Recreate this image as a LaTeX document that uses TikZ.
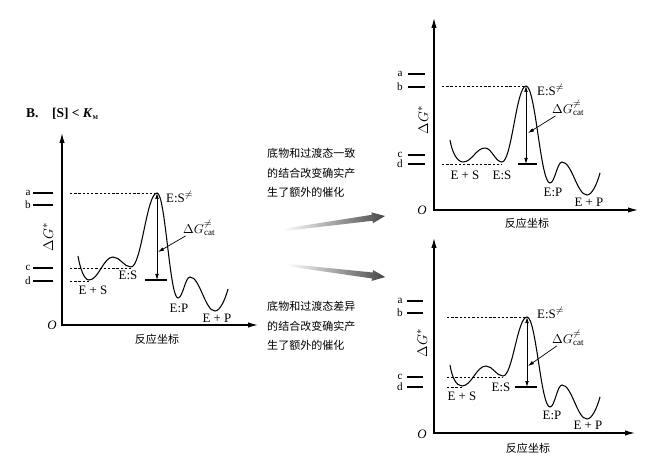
\documentclass[tikz,border=0pt]{standalone}
\usepackage{fontspec}
\setmainfont{Liberation Serif}
\newfontfamily\cjk{Noto Sans CJK SC}
\usetikzlibrary{arrows.meta}
\tikzset{
  axisline/.style={line width=0.9pt, {Latex[length=3mm,width=1.6mm]}-{Latex[length=3mm,width=1.6mm]}},
  energy/.style={line width=0.9pt},
  bar/.style={line width=1pt},
  guide/.style={line width=0.5pt, dash pattern=on 2pt off 1.6pt},
  barrier/.style={line width=0.6pt, {Latex[length=1.8mm,width=1.1mm]}-{Latex[length=1.8mm,width=1.1mm]}},
  pointer/.style={line width=0.6pt, -{Latex[length=1.8mm,width=1.1mm]}},
  lbl/.style={font=\fontsize{11}{13}\selectfont, inner sep=0pt},
  lvl/.style={font=\fontsize{9.5}{11}\selectfont, inner sep=0pt},
  yname/.style={font=\fontsize{13}{15}\selectfont, inner sep=0pt, rotate=90},
  hanzi/.style={font=\cjk\fontsize{9.4}{11}\selectfont, inner sep=0pt},
  remark/.style={font=\cjk\fontsize{9.4}{16.6}\selectfont, align=left, inner sep=0pt},
  fade/.style={left color=white, right color=black!72}
}

\begin{document}
\begin{tikzpicture}[x=0.03cm, y=-0.03cm]
  \useasboundingbox (0,0) rectangle (647,459);

  % heading
  \node[lbl, anchor=west, font=\bfseries\fontsize{11.5}{13}\selectfont] (head) at (26,114) {B.\quad [S] < \textit{K}\textsubscript{\tiny M}};

  % ---- left panel
  \coordinate (yA) at (62,133);
  \coordinate (oA) at (62,325);
  \coordinate (xA) at (258,325);
  \draw[axisline] (yA) -- (oA) -- (xA);
  \node[lbl] (OA) at (52,325) {\textit{O}};
  \node[hanzi] (rcA) at (157,339) {反应坐标};
  \node[yname] (dgsA) at (48,237) {$\Delta G^{*}$};
  \foreach \y/\t in {193/a,205/b,268/c,281/d} {
    \draw[bar] (33,\y) -- (53,\y);
    \node[lvl] (lvA\t) at (28,\y) {\t};
  }
  \coordinate (fsA) at (89,281);
  \coordinate (esA) at (131,268);
  \coordinate (tsA) at (157,193);
  \coordinate (barA) at (157,280);
  \draw[energy] (78,256) .. controls (80,268) and (84,280) .. (89,280)
    .. controls (98.6,280) and (103.4,257) .. (113,257)
    .. controls (120.2,257) and (123.8,267) .. (131,267)
    .. controls (141.4,267) and (146.6,193) .. (157,193)
    .. controls (165.4,193) and (169.6,298) .. (178,298)
    .. controls (182.8,298) and (185.2,277) .. (190,277)
    .. controls (200,277) and (205,311) .. (215,311)
    .. controls (220,311) and (225,300) .. (228,289);
  \draw[guide] (70,193) -- (tsA);
  \draw[guide] (70,268) -- (esA);
  \draw[guide] (70,281) -- (fsA);
  \draw[bar] (145,280) -- (167,280);
  \draw[barrier] (tsA) -- (barA);
  \node[lbl, anchor=west] (tslA) at (166,197) {E:S$^{\neq}$};
  \node[lbl, anchor=west] (dgA) at (183,228) {$\Delta G^{\neq}_{\mathrm{cat}}$};
  \coordinate (pA) at (158,252);
  \draw[pointer] (dgA) -- (pA);
  \node[lbl] (esSA) at (93,290) {E + S};
  \node[lbl] (esCA) at (128,275) {E:S};
  \node[lbl] (epCA) at (179,308) {E:P};
  \node[lbl] (epSA) at (217,318) {E + P};

  % ---- middle texts and arrows
  \node[remark, anchor=west] (same) at (267,173) {底物和过渡态一致\\的结合改变确实产\\生了额外的催化};
  \node[remark, anchor=west] (diff) at (267,326) {底物和过渡态差异\\的结合改变确实产\\生了额外的催化};
  \begin{scope}[shift={(283,230)}, rotate=7.8]
    \shade[fade] (0,-1.2) -- (90,-3) -- (90,-5.5) -- (103,0) -- (90,5.5) -- (90,3) -- (0,1.2) -- cycle;
  \end{scope}
  \begin{scope}[shift={(287,265)}, rotate=-7]
    \shade[fade] (0,-1.2) -- (86,-3) -- (86,-5.5) -- (99,0) -- (86,5.5) -- (86,3) -- (0,1.2) -- cycle;
  \end{scope}

  % ---- top right panel
  \coordinate (yB) at (434,18);
  \coordinate (oB) at (434,210);
  \coordinate (xB) at (638,210);
  \draw[axisline] (yB) -- (oB) -- (xB);
  \node[lbl] (OB) at (422,210) {\textit{O}};
  \node[hanzi] (rcB) at (527,223) {反应坐标};
  \node[yname] (dgsB) at (423,120) {$\Delta G^{*}$};
  \foreach \y/\t in {74/a,87/b,155/c,164/d} {
    \draw[bar] (408,\y) -- (425,\y);
    \node[lvl] (lvB\t) at (400,\y) {\t};
  }
  \coordinate (esB) at (502,164);
  \coordinate (tsB) at (526,86);
  \coordinate (barB) at (526,164);
  \draw[energy] (450,140) .. controls (452,152) and (457,162) .. (463,162)
    .. controls (471.8,162) and (476.2,148) .. (485,148)
    .. controls (491.8,148) and (495.2,162) .. (502,162)
    .. controls (511.6,162) and (516.4,86) .. (526,86)
    .. controls (535.6,86) and (540.4,183) .. (550,183)
    .. controls (554.8,183) and (557.2,162) .. (562,162)
    .. controls (572,162) and (577,195) .. (587,195)
    .. controls (592,195) and (597,184) .. (600,173);
  \draw[guide] (442,86) -- (tsB);
  \draw[guide] (442,164) -- (esB);
  \draw[bar] (518,164) -- (537,164);
  \draw[barrier] (tsB) -- (barB);
  \node[lbl, anchor=west] (tslB) at (537,90) {E:S$^{\neq}$};
  \node[lbl, anchor=west] (dgB) at (552,108) {$\Delta G^{\neq}_{\mathrm{cat}}$};
  \coordinate (pB) at (528,133);
  \draw[pointer] (dgB) -- (pB);
  \node[lbl] (esSB) at (465,175) {E + S};
  \node[lbl] (esCB) at (502,175) {E:S};
  \node[lbl] (epCB) at (553,192) {E:P};
  \node[lbl] (epSB) at (589,202) {E + P};

  % ---- bottom right panel
  \coordinate (yC) at (434,238);
  \coordinate (oC) at (434,433);
  \coordinate (xC) at (635,433);
  \draw[axisline] (yC) -- (oC) -- (xC);
  \node[lbl] (OC) at (422,434) {\textit{O}};
  \node[hanzi] (rcC) at (528,448) {反应坐标};
  \node[yname] (dgsC) at (422,343) {$\Delta G^{*}$};
  \foreach \y/\t in {301/a,313/b,377/c,387/d} {
    \draw[bar] (407,\y) -- (423,\y);
    \node[lvl] (lvC\t) at (400,\y) {\t};
  }
  \coordinate (fsC) at (462,387);
  \coordinate (esC) at (503,377);
  \coordinate (tsC) at (527,317);
  \coordinate (barC) at (527,387);
  \draw[energy] (450,365) .. controls (452,377) and (456,386) .. (462,386)
    .. controls (471.6,386) and (476.4,366) .. (486,366)
    .. controls (492.8,366) and (496.2,376) .. (503,376)
    .. controls (512.6,376) and (517.4,317) .. (527,317)
    .. controls (536.2,317) and (540.8,407) .. (550,407)
    .. controls (554.8,407) and (557.2,385) .. (562,385)
    .. controls (572,385) and (577,419) .. (587,419)
    .. controls (592,419) and (597,408) .. (600,397);
  \draw[guide] (447,317) -- (tsC);
  \draw[guide] (447,377) -- (esC);
  \draw[guide] (447,387) -- (fsC);
  \draw[bar] (515,387) -- (537,387);
  \draw[barrier] (tsC) -- (barC);
  \node[lbl, anchor=west] (tslC) at (537,313) {E:S$^{\neq}$};
  \node[lbl, anchor=west] (dgC) at (552,338) {$\Delta G^{\neq}_{\mathrm{cat}}$};
  \coordinate (pC) at (528,366);
  \draw[pointer] (dgC) -- (pC);
  \node[lbl] (esSC) at (462,396) {E + S};
  \node[lbl] (esCC) at (501,387) {E:S};
  \node[lbl] (epCC) at (552,415) {E:P};
  \node[lbl] (epSC) at (588,425) {E + P};
\end{tikzpicture}
\end{document}
